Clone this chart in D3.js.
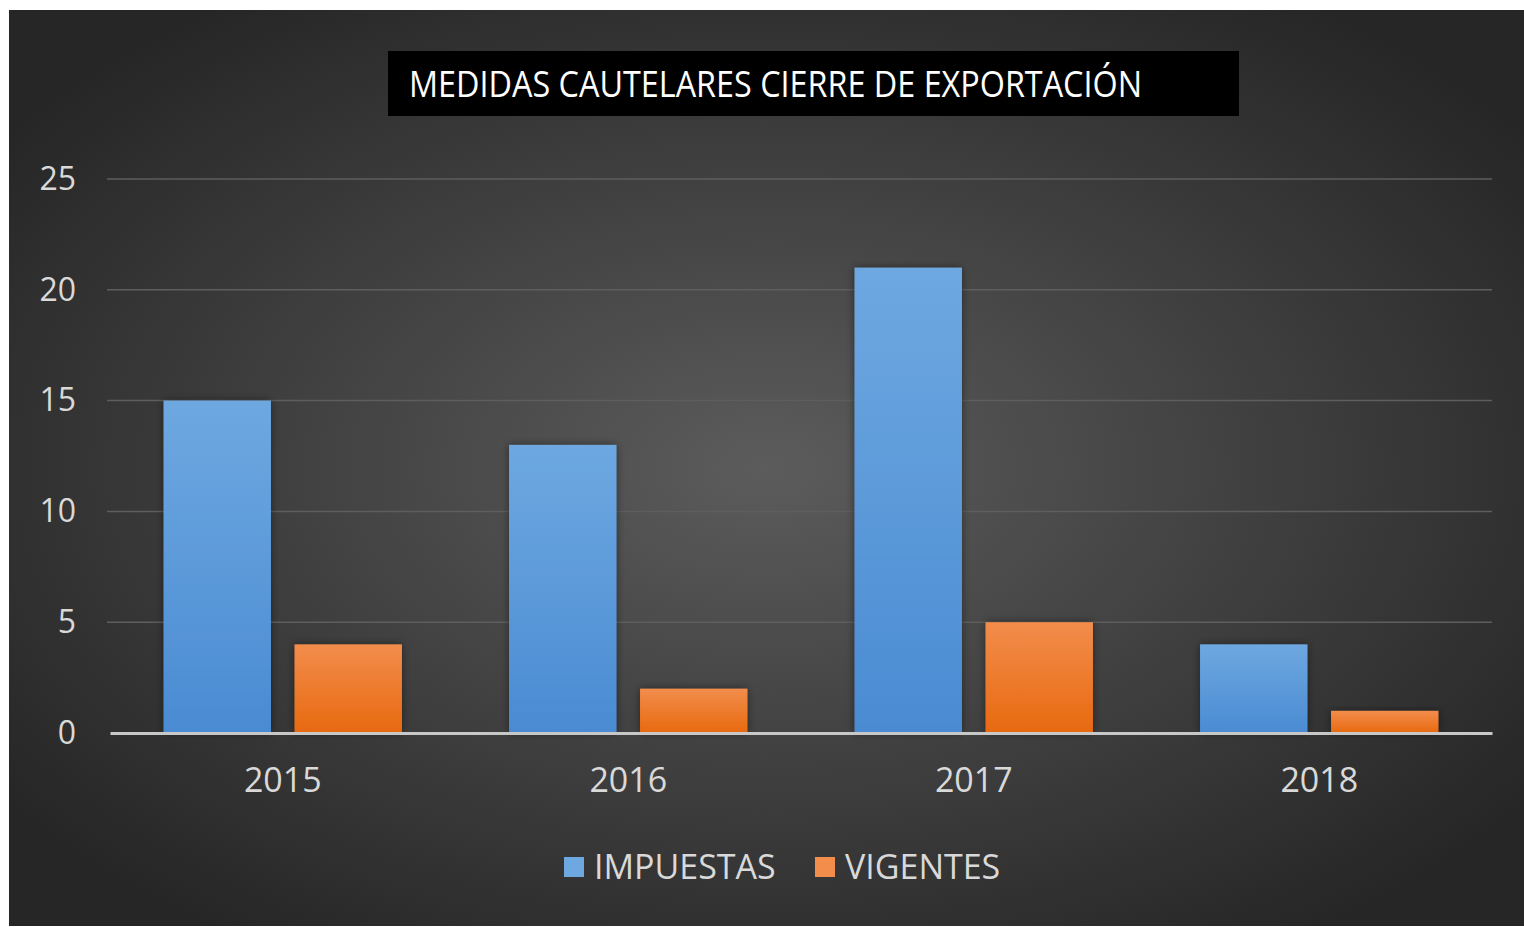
<!DOCTYPE html>
<html>
<head>
<meta charset="utf-8">
<script src="https://cdn.jsdelivr.net/npm/d3@7"></script>
<style>
  html, body { margin: 0; padding: 0; background: #ffffff; }
  svg { display: block; }
</style>
</head>
<body>
<div id="chart"></div>
<script>
// chart data
const years = ["2015", "2016", "2017", "2018"];
const seriesNames = ["IMPUESTAS", "VIGENTES"];
const impuestas = [15, 13, 21, 4];
const vigentes = [4, 2, 5, 1];
const yTicks = [0, 5, 10, 15, 20, 25];
const titleText = "MEDIDAS CAUTELARES CIERRE DE EXPORTACIÓN";

const seriesValues = [impuestas, vigentes];
const rows = years.map((y, i) => ({ year: y, values: seriesNames.map((s, j) => ({ key: s, value: seriesValues[j][i] })) }));

const width = 1524, height = 927;
const margin = { top: 179, right: 32, bottom: 194, left: 110 };
const innerW = width - margin.left - margin.right;
const innerH = height - margin.top - margin.bottom;
const font = "'Open Sans', 'Noto Sans', sans-serif";

const svg = d3.select('#chart').append('svg')
    .attr('width', width)
    .attr('height', height);

const defs = svg.append('defs');

// background radial glow
const bg = defs.append('radialGradient')
    .attr('id', 'bgGrad')
    .attr('cx', '50%').attr('cy', '50%').attr('r', '62%');
bg.append('stop').attr('offset', '0%').attr('stop-color', '#5c5c5c');
bg.append('stop').attr('offset', '100%').attr('stop-color', '#262626');

const barColors = {
    IMPUESTAS: ['#6ea8e1', '#4a8bd2'],
    VIGENTES: ['#f28d4c', '#e8690f']
};
seriesNames.forEach((s, i) => {
    const g = defs.append('linearGradient')
        .attr('id', 'bar' + i)
        .attr('x1', 0).attr('y1', 0).attr('x2', 0).attr('y2', 1);
    g.append('stop').attr('offset', '0%').attr('stop-color', barColors[s][0]);
    g.append('stop').attr('offset', '100%').attr('stop-color', barColors[s][1]);
});

const shadow = defs.append('filter').attr('id', 'shadow')
    .attr('x', '-20%').attr('y', '-20%').attr('width', '140%').attr('height', '140%');
shadow.append('feDropShadow')
    .attr('dx', 0).attr('dy', 0).attr('stdDeviation', 4)
    .attr('flood-color', '#000').attr('flood-opacity', 0.45);

svg.append('rect')
    .attr('x', 9).attr('y', 10)
    .attr('width', width - 9).attr('height', height - 11)
    .attr('fill', 'url(#bgGrad)');

const chart = svg.append('g')
    .attr('transform', `translate(${margin.left},${margin.top})`);

// scales
const x0 = d3.scaleBand()
    .domain(years)
    .range([0, innerW])
    .paddingInner(0)
    .paddingOuter(0);

const bw = x0.bandwidth();
const x1 = d3.scaleBand()
    .domain(seriesNames)
    .range([bw * 0.155, bw * 0.845])
    .paddingInner(0.18);

const y = d3.scaleLinear()
    .domain([0, 25])
    .range([innerH, 0]);

// gridlines
chart.append('g')
    .selectAll('line')
    .data(yTicks.filter(d => d > 0))
    .join('line')
    .attr('x1', -3).attr('x2', innerW)
    .attr('y1', d => y(d)).attr('y2', d => y(d))
    .attr('stroke', '#5e5e5e')
    .attr('stroke-width', 1.5);

// y axis labels
const yAxis = d3.axisLeft(y).tickValues(yTicks).tickSize(0).tickPadding(34);
chart.append('g')
    .call(yAxis)
    .call(g => g.select('.domain').remove())
    .selectAll('text')
    .attr('fill', '#d9d9d9')
    .style('font-family', font)
    .style('font-size', '32px');

// bars
const groups = chart.selectAll('.year')
    .data(rows)
    .join('g')
    .attr('class', 'year')
    .attr('transform', d => `translate(${x0(d.year)},0)`);

groups.selectAll('rect')
    .data(d => d.values)
    .join('rect')
    .attr('x', d => x1(d.key))
    .attr('y', d => y(d.value))
    .attr('width', x1.bandwidth())
    .attr('height', d => innerH - y(d.value))
    .attr('fill', d => `url(#bar${seriesNames.indexOf(d.key)})`)
    .attr('filter', 'url(#shadow)');

// baseline / x axis
const xAxis = d3.axisBottom(x0).tickSize(0).tickPadding(35);
chart.append('g')
    .attr('transform', `translate(0,${innerH})`)
    .call(xAxis)
    .call(g => g.select('.domain')
        .attr('stroke', '#c8c8c8')
        .attr('stroke-width', 3))
    .selectAll('text')
    .attr('fill', '#d9d9d9')
    .style('font-family', font)
    .style('font-size', '34px');

// legend
const legend = svg.append('g')
    .attr('transform', 'translate(564,867)');
const legendX = [0, 251];
seriesNames.forEach((s, i) => {
    const item = legend.append('g').attr('transform', `translate(${legendX[i]},0)`);
    item.append('rect')
        .attr('x', 0).attr('y', -10)
        .attr('width', 20).attr('height', 20)
        .attr('fill', barColors[s][0]);
    item.append('text')
        .attr('x', 30).attr('y', 12)
        .attr('fill', '#d9d9d9')
        .style('font-family', font)
        .style('font-size', '34px')
        .text(s);
});

// title box
svg.append('rect')
    .attr('x', 388).attr('y', 51)
    .attr('width', 851).attr('height', 65)
    .attr('fill', '#000');
svg.append('text')
    .attr('x', 409).attr('y', 97)
    .attr('fill', '#fff')
    .attr('textLength', 733)
    .attr('lengthAdjust', 'spacingAndGlyphs')
    .style('font-family', font)
    .style('font-size', '37px')
    .text(titleText);
</script>
</body>
</html>
